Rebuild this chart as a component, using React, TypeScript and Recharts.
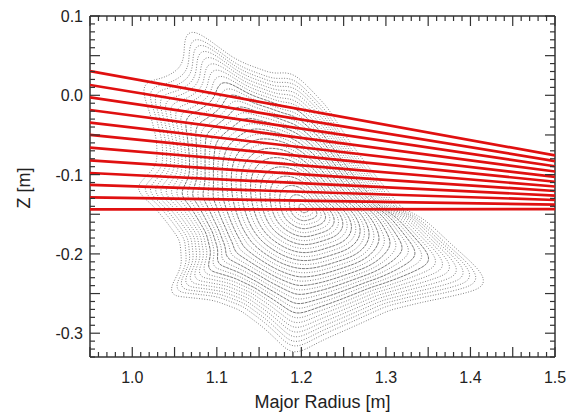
import React from 'react';
import { ComposedChart, Scatter, XAxis, YAxis, Curve } from 'recharts';

// ---- axis tick labels ----
const xLabelTicks = [1.0, 1.1, 1.2, 1.3, 1.4, 1.5];
const yLabelTicks = [-0.3, -0.2, -0.1, 0.0, 0.1];

// ---- red sight lines (chords) ----
const chordX = [0.95, 1.5];
const chordLeftZ = [0.0306, 0.013, -0.0025, -0.0185, -0.0345, -0.050, -0.066, -0.082, -0.098, -0.113, -0.1286, -0.1438];
const chordRightZ = [-0.0759, -0.0829, -0.0895, -0.0961, -0.1028, -0.109, -0.115, -0.1207, -0.1264, -0.132, -0.1378, -0.1436];

// ---- flux surfaces (Poincaré plot) ----
const axisR = 1.203;
const axisZ = -0.143;
// outermost traced surface
const boundaryR = [1.0600, 1.0718, 1.0884, 1.1073, 1.1274, 1.1475, 1.1665, 1.1830, 1.1948, 1.2138, 1.2303, 1.2540, 1.2776, 1.3013, 1.3202, 1.3368, 1.3557, 1.3841, 1.4077, 1.4231, 1.4077, 1.3841, 1.3439, 1.3048, 1.2658, 1.2256, 1.1984, 1.1866, 1.1712, 1.1546, 1.1274, 1.0955, 1.0624, 1.0411, 1.0482, 1.0588, 1.0565, 1.0363, 1.0174, 1.0009, 1.0091, 1.0292, 1.0292, 1.0186, 1.0068, 1.0328, 1.0588, 1.0635];
const boundaryZ = [0.0937, 0.0849, 0.0723, 0.0546, 0.0420, 0.0344, 0.0269, 0.0294, 0.0243, 0.0042, -0.0148, -0.0538, -0.0879, -0.1194, -0.1446, -0.1497, -0.1661, -0.1951, -0.2165, -0.2367, -0.2455, -0.2518, -0.2606, -0.2707, -0.2896, -0.3086, -0.3237, -0.3250, -0.3086, -0.2922, -0.2707, -0.2581, -0.2543, -0.2518, -0.2367, -0.2165, -0.1825, -0.1535, -0.1308, -0.1194, -0.1106, -0.0879, -0.0564, -0.0122, 0.0168, 0.0193, 0.0344, 0.0571];
// a mid surface (about half size)
const coreR = [1.1333, 1.1653, 1.2008, 1.2303, 1.2599, 1.2906, 1.3072, 1.2812, 1.2362, 1.2008, 1.1688, 1.1369, 1.1227, 1.1109, 1.1085, 1.1156];
const coreZ = [-0.0311, -0.0488, -0.0639, -0.0967, -0.1383, -0.1673, -0.1875, -0.2026, -0.2178, -0.2316, -0.2153, -0.1951, -0.1699, -0.1320, -0.0879, -0.0501];
const coreLevel = 0.5;
// relative size of each nested surface (1 = outermost)
const surfaceLevels = [0.03, 0.06, 0.09, 0.12, 0.15, 0.18, 0.21, 0.24, 0.27, 0.30, 0.33, 0.36, 0.39, 0.42, 0.45, 0.48, 0.51, 0.54, 0.57, 0.60, 0.63, 0.66, 0.69, 0.72, 0.75, 0.78, 0.81, 0.84, 0.87, 0.90, 0.93, 0.96, 1.0];

// distance from the magnetic axis to a traced surface along a ray
function rayRadius(xs: number[], ys: number[], th: number) {
  const dx = Math.cos(th), dy = Math.sin(th);
  let best = 0;
  for (let i = 0; i < xs.length; i++) {
    const j = (i + 1) % xs.length;
    const ax = xs[i] - axisR, ay = ys[i] - axisZ;
    const ex = xs[j] - xs[i], ey = ys[j] - ys[i];
    const D = -dx * ey + ex * dy;
    if (Math.abs(D) < 1e-14) continue;
    const t = (-ax * ey + ex * ay) / D;
    const u = (dx * ay - dy * ax) / D;
    if (t > 0 && u >= -1e-9 && u <= 1 + 1e-9 && t > best) best = t;
  }
  return best;
}
function smoothCircular(a: number[], half: number) {
  const n = a.length;
  return a.map((_, k) => {
    let s = 0;
    for (let d = -half; d <= half; d++) s += a[(k + d + n) % n];
    return s / (2 * half + 1);
  });
}

const NANG = 180;
const angles = Array.from({ length: NANG }, (_, k) => (2 * Math.PI * k) / NANG);
const rbArr = smoothCircular(angles.map((th) => rayRadius(boundaryR, boundaryZ, th)), 1);
const rcArr = smoothCircular(smoothCircular(angles.map((th) => rayRadius(coreR, coreZ, th) / coreLevel), 8), 8);

const surfaces = surfaceLevels.map((s) => {
  const w0 = Math.min(1, Math.max(0, (s - 0.4) / 0.6));
  const w = w0 * w0 * (3 - 2 * w0);
  return angles.map((th, k) => {
    const r = s * ((1 - w) * rcArr[k] + w * rbArr[k]);
    return { x: axisR + r * Math.cos(th), y: axisZ + r * Math.sin(th) };
  });
});

const chords = chordLeftZ.map((zl, i) => [
  { x: chordX[0], y: zl },
  { x: chordX[1], y: chordRightZ[i] },
]);

const xTicks: number[] = [];
for (let i = 95; i <= 150; i++) xTicks.push(i / 100);
const yTicks: number[] = [];
for (let i = -33; i <= 10; i++) yTicks.push(i / 100);

const AX = '#333';
const FONT = 'Liberation Sans, Arial, sans-serif';
const isMajor = (v: number) => Math.round(v * 100) % 5 === 0;
const isLabel = (v: number, labels: number[]) => labels.some((l) => Math.abs(l - v) < 1e-6);

const BottomTick = (p: any) => {
  const v = p.payload.value;
  const len = isMajor(v) ? 10 : 5;
  return (
    <g>
      <line x1={p.x} x2={p.x} y1={p.y} y2={p.y - len} stroke={AX} strokeWidth={1.2} />
      {isLabel(v, xLabelTicks) && (
        <text x={p.x} y={p.y + 26} textAnchor="middle" fontSize={16} fill="#222" fontFamily={FONT}>
          {v.toFixed(1)}
        </text>
      )}
    </g>
  );
};
const TopTick = (p: any) => {
  const v = p.payload.value;
  const len = isMajor(v) ? 10 : 5;
  return <line x1={p.x} x2={p.x} y1={p.y} y2={p.y + len} stroke={AX} strokeWidth={1.2} />;
};
const LeftTick = (p: any) => {
  const v = p.payload.value;
  const len = isMajor(v) ? 10 : 5;
  return (
    <g>
      <line x1={p.x} x2={p.x + len} y1={p.y} y2={p.y} stroke={AX} strokeWidth={1.2} />
      {isLabel(v, yLabelTicks) && (
        <text x={p.x - 7} y={p.y + 6} textAnchor="end" fontSize={16} fill="#222" fontFamily={FONT}>
          {v.toFixed(1)}
        </text>
      )}
    </g>
  );
};
const RightTick = (p: any) => {
  const v = p.payload.value;
  const len = isMajor(v) ? 10 : 5;
  return <line x1={p.x} x2={p.x - len} y1={p.y} y2={p.y} stroke={AX} strokeWidth={1.2} />;
};

const NoShape = () => null;

export default function App() {
  const n = surfaces.length;
  return (
    <div style={{ position: 'absolute', left: 0, top: 0, background: '#fff' }}>
      <ComposedChart width={580} height={416} margin={{ top: 15, right: 24, bottom: 0, left: 0 }}>
        <XAxis xAxisId="b" type="number" dataKey="x" domain={[0.95, 1.5]} allowDataOverflow ticks={xTicks} interval={0}
          tick={<BottomTick />} tickLine={false} tickSize={0} tickMargin={0} height={59}
          axisLine={{ stroke: AX, strokeWidth: 1.5 }} orientation="bottom" />
        <XAxis xAxisId="t" type="number" dataKey="x" domain={[0.95, 1.5]} allowDataOverflow ticks={xTicks} interval={0}
          tick={<TopTick />} tickLine={false} tickSize={0} tickMargin={0} height={1}
          axisLine={{ stroke: AX, strokeWidth: 1.5 }} orientation="top" />
        <YAxis yAxisId="l" type="number" dataKey="y" domain={[-0.33, 0.1]} allowDataOverflow ticks={yTicks} interval={0}
          tick={<LeftTick />} tickLine={false} tickSize={0} tickMargin={0} width={90}
          axisLine={{ stroke: AX, strokeWidth: 1.5 }} orientation="left"
          label={{ content: () => (
            <text x={30} y={188} transform="rotate(-90, 30, 188)" textAnchor="middle" fontSize={18} fill="#222" fontFamily={FONT}>Z [m]</text>
          ) }} />
        <YAxis yAxisId="r" type="number" dataKey="y" domain={[-0.33, 0.1]} allowDataOverflow ticks={yTicks} interval={0}
          tick={<RightTick />} tickLine={false} tickSize={0} tickMargin={0} width={1}
          axisLine={{ stroke: AX, strokeWidth: 1.5 }} orientation="right" />
        {surfaces.map((pts, i) => {
          const outer = i >= n - 8;
          const solid = !outer && i % 2 === 0;
          const stroke = solid ? '#555' : '#666';
          const dash = solid ? '3 0.8' : '0.9 1.7';
          return (
            <Scatter key={'s' + i} xAxisId="b" yAxisId="l" data={pts} isAnimationActive={false}
              fill={stroke} shape={<NoShape />}
              line={(lp: any) => (
                <Curve points={lp.points} type="basisClosed" stroke={stroke} strokeWidth={solid ? 0.8 : 0.9}
                  strokeDasharray={dash} fill="none" />
              )} />
          );
        })}
        {chords.map((pts, i) => (
          <Scatter key={'c' + i} xAxisId="b" yAxisId="l" data={pts} isAnimationActive={false}
            fill="#e01010" shape={<NoShape />}
            line={{ stroke: '#e01010', strokeWidth: 2.7, fill: 'none' }} lineType="joint" />
        ))}
        <text x={322.5} y={408} textAnchor="middle" fontSize={18} fill="#222" fontFamily={FONT}>Major Radius [m]</text>
      </ComposedChart>
    </div>
  );
}
